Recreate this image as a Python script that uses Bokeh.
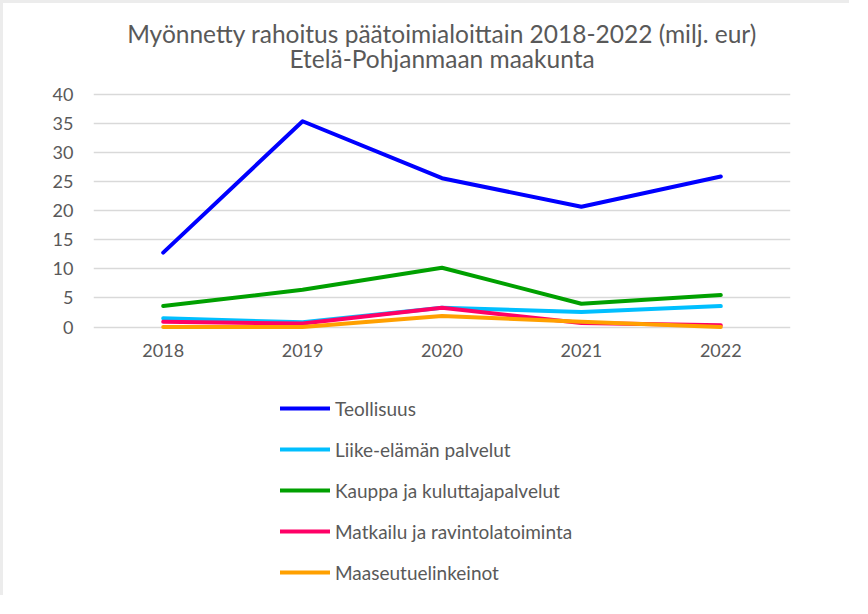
from bokeh.plotting import figure
from bokeh.models import Legend, LegendItem, FactorRange, FixedTicker, ColumnDataSource
from bokeh.embed import file_html
from bokeh.resources import INLINE
from bokeh.core.properties import value

years = ["2018", "2019", "2020", "2021", "2022"]
teollisuus = [12.8, 35.4, 25.6, 20.7, 25.9]
liike = [1.5, 0.8, 3.3, 2.6, 3.6]
kauppa = [3.6, 6.4, 10.2, 4.0, 5.5]
matkailu = [0.9, 0.6, 3.3, 0.7, 0.3]
maaseutu = [0.0, 0.0, 1.9, 0.9, 0.0]
y_ticks = [0, 5, 10, 15, 20, 25, 30, 35, 40]

title_lines = ["Myönnetty rahoitus päätoimialoittain 2018-2022 (milj. eur)",
               "Etelä-Pohjanmaan maakunta"]
series_names = ["Teollisuus", "Liike-elämän palvelut", "Kauppa ja kuluttajapalvelut",
                "Matkailu ja ravintolatoiminta", "Maaseutuelinkeinot"]
series_values = [teollisuus, liike, kauppa, matkailu, maaseutu]
series_colors = ["#0000ff", "#00bfff", "#00a000", "#ff0066", "#ffa000"]

FONT = "Lato"
TXT = "#595959"

# geometry (canvas px): the frame fills the canvas vertically; value 40 sits
# TOP px below the canvas top and value 0 sits ZERO_PX px below that.
H = 595
TOP = 91
ZERO_PX = 232.5
PXU = ZERO_PX / 40.0            # pixels per unit
y_end = 40 + TOP / PXU
y_start = -(H - TOP - ZERO_PX) / PXU


def px_to_val(px_from_top):
    return y_end - px_from_top / PXU


p = figure(width=849, height=H, x_range=FactorRange(*years), y_range=(y_start, y_end),
           output_backend="svg", toolbar_location=None,
           min_border_left=90, min_border_right=62, min_border_top=0,
           min_border_bottom=0)
p.styles = {"border-left": "3px solid #ececec", "border-top": "3px solid #ececec"}
p.outline_line_color = None
p.background_fill_color = "white"
p.border_fill_color = "white"

# two-line title, centred over the plot area
ttl = ColumnDataSource(dict(x=[years[2], years[2]], y=[px_to_val(30), px_to_val(55)],
                            t=title_lines))
p.text(x="x", y="y", text="t", source=ttl, text_align="center", text_baseline="middle",
       text_font=value(FONT), text_font_size="24.5px", text_color=TXT)

items = []
for name, vals, col in zip(series_names, series_values, series_colors):
    r = p.line(years, vals, line_color=col, line_width=4, line_cap="round", line_join="round")
    items.append(LegendItem(label=name, renderers=[r]))

# category labels under the zero line
lbl = ColumnDataSource(dict(x=years, y=[-4.0] * len(years), t=years))
p.text(x="x", y="y", text="t", source=lbl, text_align="center", text_baseline="middle",
       text_font=value(FONT), text_font_size="18px", text_color=TXT)

p.xaxis.visible = False
p.yaxis.ticker = FixedTicker(ticks=y_ticks)
p.ygrid.ticker = FixedTicker(ticks=y_ticks)
ax = p.yaxis
ax.axis_line_color = None
ax.major_tick_line_color = None
ax.minor_tick_line_color = None
ax.major_tick_out = 0
ax.minor_tick_out = 0
ax.major_label_text_font = FONT
ax.major_label_text_font_size = "18px"
ax.major_label_text_color = TXT
ax.major_label_standoff = 20

p.xgrid.grid_line_color = None
p.ygrid.grid_line_color = "#d9d9d9"
p.ygrid.grid_line_width = 1.5

legend = Legend(items=items, location=(187, 14), orientation="vertical",
                glyph_width=50, glyph_height=24, label_height=24, spacing=17,
                label_standoff=5, padding=0, margin=0, border_line_color=None,
                background_fill_alpha=0, label_text_font=FONT,
                label_text_font_size="19px", label_text_color=TXT)
p.add_layout(legend, "center")

open("out.html", "w").write(file_html(p, INLINE))
